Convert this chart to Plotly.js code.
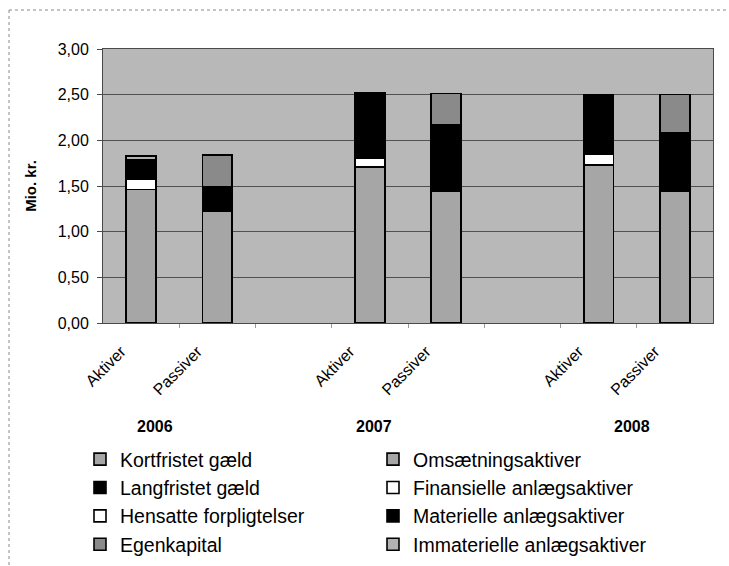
<!DOCTYPE html>
<html>
<head>
<meta charset="utf-8">
<script src="https://cdn.plot.ly/plotly-3.0.1.min.js"></script>
<style>html,body{margin:0;padding:0;background:#fff;}#chart{width:729px;height:566px;}</style>
</head>
<body>
<div id="chart"></div>
<script>
// ---- data ----
var years = ['2006', '2007', '2008'];
var sides = ['Aktiver', 'Passiver'];

// Aktiver (assets), bottom to top in the stack
var omsaetningsaktiver = [1.46, 1.71, 1.73];
var finansielleAnlaeg = [0.11, 0.09, 0.12];
var materielleAnlaeg = [0.22, 0.72, 0.65];
var immaterielleAnlaeg = [0.04, 0, 0];

// Passiver (liabilities), bottom to top in the stack
var kortfristetGaeld = [1.22, 1.445, 1.44];
var langfristetGaeld = [0.27, 0.72, 0.64];
var hensatteForpligtelser = [0, 0, 0];
var egenkapital = [0.35, 0.35, 0.42];

var seriesNames = {
  kort: 'Kortfristet gæld', oms: 'Omsætningsaktiver',
  lang: 'Langfristet gæld', fin: 'Finansielle anlægsaktiver',
  hens: 'Hensatte forpligtelser', mat: 'Materielle anlægsaktiver',
  egen: 'Egenkapital', imm: 'Immaterielle anlægsaktiver'
};

// ---- layout helpers ----
var W = 729, H = 566;
var mL = 103, mR = 16, mT = 49, mB = 243;
var pw = W - mL - mR, ph = H - mT - mB;
function px2x(px) { return (px - mL) / pw; }
function px2y(py) { return (H - mB - py) / ph; }

var slotsPerYear = sides.length + 1; // one empty slot between years
function pos(yearIdx, sideIdx) { return yearIdx * slotsPerYear + sideIdx; }

var aktX = years.map(function (_, i) { return pos(i, 0); });
var pasX = years.map(function (_, i) { return pos(i, 1); });
function nz(arr) { return arr.map(function (v) { return v === 0 ? null : v; }); }

var font = 'Liberation Sans, Arial, sans-serif';
var barW = 0.39;
var edge = { color: '#000', width: 1.6 };

function tr(name, xs, ys, color) {
  return {
    type: 'bar', name: name, x: xs, y: nz(ys), width: barW,
    marker: { color: color, line: edge },
    hoverinfo: 'name+y'
  };
}

// Order gives legend row-wise layout (2 columns) and correct stacking per bar
var data = [
  tr(seriesNames.kort, pasX, kortfristetGaeld, '#a6a6a6'),
  tr(seriesNames.oms, aktX, omsaetningsaktiver, '#a6a6a6'),
  tr(seriesNames.lang, pasX, langfristetGaeld, '#000000'),
  tr(seriesNames.fin, aktX, finansielleAnlaeg, '#ffffff'),
  tr(seriesNames.hens, pasX, hensatteForpligtelser, '#ffffff'),
  tr(seriesNames.mat, aktX, materielleAnlaeg, '#000000'),
  tr(seriesNames.egen, pasX, egenkapital, '#8a8a8a'),
  tr(seriesNames.imm, aktX, immaterielleAnlaeg, '#b2b2b2')
];

var tickVals = [], tickText = [];
years.forEach(function (_, i) {
  sides.forEach(function (s, j) { tickVals.push(pos(i, j)); tickText.push(s); });
});
var nSlots = years.length * slotsPerYear - 1;
var bounds = [];
for (var b = 0; b < nSlots - 1; b++) bounds.push(b + 0.5);

var yearPx = [155, 374, 632];
var annotations = years.map(function (y, i) {
  return {
    text: '<b>' + y + '</b>', xref: 'paper', yref: 'paper',
    x: px2x(yearPx[i]), y: px2y(426), xanchor: 'center', yanchor: 'middle',
    showarrow: false, font: { family: font, size: 16, color: '#000' }
  };
});

var shapes = [
  { type: 'line', xref: 'paper', yref: 'paper', x0: px2x(9), x1: px2x(729), y0: px2y(10), y1: px2y(10),
    line: { color: '#8a8a8a', width: 1, dash: 'dot' } },
  { type: 'line', xref: 'paper', yref: 'paper', x0: px2x(9), x1: px2x(9), y0: px2y(10), y1: px2y(566),
    line: { color: '#8a8a8a', width: 1, dash: 'dot' } }
];

var layout = {
  width: W, height: H,
  margin: { l: mL, r: mR, t: mT, b: mB, pad: 0, autoexpand: false },
  paper_bgcolor: '#ffffff',
  plot_bgcolor: '#b8b8b8',
  barmode: 'stack',
  separators: ',.',
  font: { family: font, size: 16, color: '#000' },
  showlegend: true,
  legend: {
    orientation: 'h', traceorder: 'normal',
    xref: 'container', yref: 'container',
    x: 80 / W, y: 1 - 440 / H, xanchor: 'left', yanchor: 'top',
    entrywidth: 248, entrywidthmode: 'pixels',
    font: { family: font, size: 19.5, color: '#000' },
    bgcolor: 'rgba(0,0,0,0)', itemclick: false
  },
  xaxis: {
    range: [-0.5, nSlots - 0.5],
    tickmode: 'array', tickvals: tickVals, ticktext: tickText,
    tickangle: -45, ticks: '',
    ticklabelshift: -20, ticklabelstandoff: 12,
    tickfont: { family: font, size: 16, color: '#000' },
    showgrid: false, zeroline: false, automargin: false,
    showline: true, mirror: true, linecolor: '#4a4a4a', linewidth: 1,
    minor: { tickmode: 'array', tickvals: bounds, ticks: 'outside', ticklen: 4, tickcolor: '#9a9a9a', showgrid: false },
    fixedrange: true
  },
  yaxis: {
    range: [0, 3], dtick: 0.5, tick0: 0, tickformat: '.2f',
    ticks: 'outside', ticklen: 5, tickcolor: '#4a4a4a',
    ticklabelstandoff: 5,
    tickfont: { family: font, size: 16, color: '#000' },
    showgrid: true, gridcolor: '#505050', gridwidth: 1,
    zeroline: false, automargin: false,
    showline: true, mirror: true, linecolor: '#4a4a4a', linewidth: 1,
    title: { text: '<b>Mio. kr.</b>', font: { family: font, size: 15, color: '#000' }, standoff: 17 },
    fixedrange: true
  },
  annotations: annotations,
  shapes: shapes
};

Plotly.newPlot('chart', data, layout, { displayModeBar: false, staticPlot: true });
</script>
</body>
</html>
